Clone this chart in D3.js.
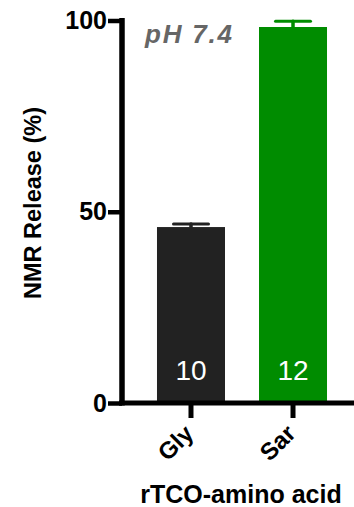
<!DOCTYPE html>
<html>
<head>
<meta charset="utf-8">
<script src="https://cdn.jsdelivr.net/npm/d3@7"></script>
<style>
  html, body { margin: 0; padding: 0; background: #fff; }
  svg { display: block; font-family: "Liberation Sans", Arial, sans-serif; }
</style>
</head>
<body>
<svg id="chart" width="354" height="507"></svg>
<script>
// NMR release per rTCO-amino acid at pH 7.4
const categories = ["Gly", "Sar"];
const releaseMean = [46.0, 98.3];
const releaseSem = [0.8, 1.5];
const replicates = [10, 12];
const barColors = ["#222222", "#008c00"];
const yTicks = [0, 50, 100];

const svg = d3.select("#chart");
const W = 354, H = 507;

const y = d3.scaleLinear().domain([0, 100]).range([403, 20.5]);
const x = d3.scaleBand().domain(categories).range([122, 362])
  .paddingInner(1 / 3).paddingOuter(0.343);

const rows = categories.map((c, i) => ({
  cat: c, mean: releaseMean[i], sem: releaseSem[i], n: replicates[i], color: barColors[i]
}));

// bars
svg.append("g").selectAll("rect").data(rows).join("rect")
  .attr("x", d => x(d.cat))
  .attr("width", x.bandwidth())
  .attr("y", d => y(d.mean))
  .attr("height", d => y(0) - y(d.mean))
  .attr("fill", d => d.color);

// upper error bars
const eb = svg.append("g").selectAll("g").data(rows).join("g")
  .attr("stroke", d => d.color).attr("stroke-linecap", "round");
eb.append("line")
  .attr("x1", d => x(d.cat) + x.bandwidth() / 2)
  .attr("x2", d => x(d.cat) + x.bandwidth() / 2)
  .attr("y1", d => y(d.mean))
  .attr("y2", d => y(d.mean + d.sem))
  .attr("stroke-width", 3.5);
eb.append("line")
  .attr("x1", d => x(d.cat) + x.bandwidth() / 2 - 17.5)
  .attr("x2", d => x(d.cat) + x.bandwidth() / 2 + 17.5)
  .attr("y1", d => y(d.mean + d.sem))
  .attr("y2", d => y(d.mean + d.sem))
  .attr("stroke-width", 3);

// replicate counts inside bars
svg.append("g").selectAll("text").data(rows).join("text")
  .attr("x", d => x(d.cat) + x.bandwidth() / 2)
  .attr("y", 380)
  .attr("text-anchor", "middle")
  .attr("fill", "#fff")
  .attr("font-size", 28)
  .text(d => d.n);

// y axis
const yAxis = svg.append("g").attr("transform", "translate(122,0)")
  .call(d3.axisLeft(y).tickValues(yTicks).tickSize(14).tickSizeOuter(0).tickPadding(1));
yAxis.select(".domain").remove();
yAxis.selectAll(".tick line").attr("stroke", "#000").attr("stroke-width", 4.5);
yAxis.selectAll(".tick text")
  .attr("font-size", 25).attr("font-weight", "bold").attr("fill", "#000")
  .attr("font-family", "Liberation Sans, Arial, sans-serif");
svg.append("line")
  .attr("x1", 122).attr("x2", 122)
  .attr("y1", y(100) - 2.5).attr("y2", y(0) + 2.5)
  .attr("stroke", "#000").attr("stroke-width", 5.5);

// x axis
const xAxis = svg.append("g").attr("transform", `translate(0,${y(0)})`)
  .call(d3.axisBottom(x).tickSize(15).tickSizeOuter(0).tickFormat(() => ""));
xAxis.select(".domain").remove();
xAxis.selectAll(".tick line").attr("stroke", "#000").attr("stroke-width", 5);
svg.append("line")
  .attr("x1", 119).attr("x2", W)
  .attr("y1", y(0)).attr("y2", y(0))
  .attr("stroke", "#000").attr("stroke-width", 5);

// rotated category labels
svg.append("g").selectAll("text").data(categories).join("text")
  .attr("transform", d => `translate(${x(d) + x.bandwidth() / 2 + 4},${y(0) + 32}) rotate(-45)`)
  .attr("text-anchor", "end")
  .attr("font-size", 24).attr("font-weight", "bold")
  .text(d => d);

// axis titles
svg.append("text")
  .attr("x", 241).attr("y", 503)
  .attr("text-anchor", "middle")
  .attr("font-size", 25).attr("font-weight", "bold")
  .text("rTCO-amino acid");

svg.append("text")
  .attr("transform", "translate(41,203) rotate(-90)")
  .attr("text-anchor", "middle")
  .attr("font-size", 23.5).attr("font-weight", "bold")
  .text("NMR Release (%)");

// condition label
svg.append("text")
  .attr("x", 145).attr("y", 43)
  .attr("font-size", 26).attr("font-weight", "bold").attr("font-style", "italic")
  .attr("letter-spacing", 1.8)
  .attr("fill", "#666")
  .text("pH 7.4");
</script>
</body>
</html>
